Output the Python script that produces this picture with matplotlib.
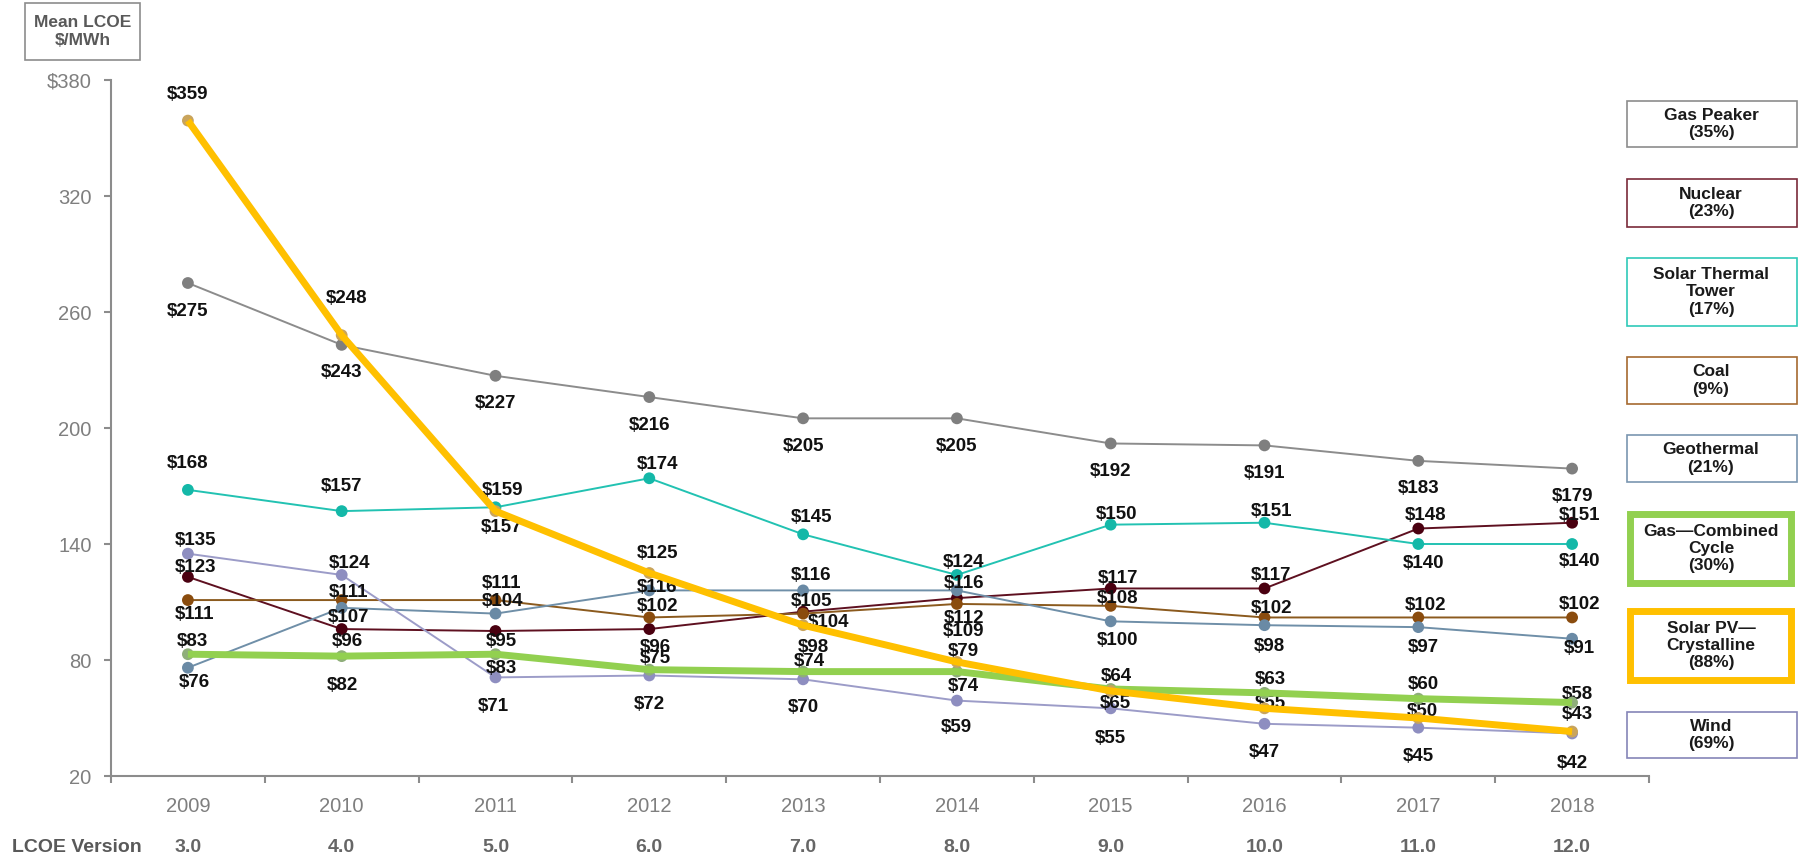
import matplotlib

matplotlib.use("Agg")
import matplotlib.pyplot as plt
from matplotlib.patches import Rectangle
from matplotlib.transforms import blended_transform_factory

plt.rcParams["font.family"] = ["Liberation Sans", "DejaVu Sans"]

# data
years = [2009, 2010, 2011, 2012, 2013, 2014, 2015, 2016, 2017, 2018]
versions = ["3.0", "4.0", "5.0", "6.0", "7.0", "8.0", "9.0", "10.0", "11.0", "12.0"]

gas_peaker = [275, 243, 227, 216, 205, 205, 192, 191, 183, 179]
nuclear = [123, 96, 95, 96, 105, 112, 117, 117, 148, 151]
solar_thermal = [168, 157, 159, 174, 145, 124, 150, 151, 140, 140]
coal = [111, 111, 111, 102, 104, 109, 108, 102, 102, 102]
geothermal = [76, 107, 104, 116, 116, 116, 100, 98, 97, 91]
gas_cc = [83, 82, 83, 75, 74, 74, 65, 63, 60, 58]
solar_pv = [359, 248, 157, 125, 98, 79, 64, 55, 50, 43]
wind = [135, 124, 71, 72, 70, 59, 55, 47, 45, 42]

legend_names = ["Gas Peaker\n(35%)", "Nuclear\n(23%)", "Solar Thermal\nTower\n(17%)",
                "Coal\n(9%)", "Geothermal\n(21%)", "Gas\u2014Combined\nCycle\n(30%)",
                "Solar PV\u2014\nCrystalline\n(88%)", "Wind\n(69%)"]

# style: (line colour, marker colour, line width, zorder)
STYLE = {
    "gas_peaker": ("#8c8c8c", "#7f7f7f", 1.4, 2),
    "nuclear": ("#5e1020", "#4a0010", 1.4, 2),
    "solar_thermal": ("#22c2b2", "#14b8a8", 1.4, 2),
    "coal": ("#8b5a1e", "#8a4c0e", 1.4, 2),
    "geothermal": ("#6f8fa8", "#6a8aa5", 1.4, 2),
    "wind": ("#9c9cc8", "#8e8ec0", 1.4, 2),
    "gas_cc": ("#92d050", "#8fae7a", 5.0, 5),
    "solar_pv": ("#ffc000", "#c9a45c", 5.0, 6),
}

# label offsets in pixels (dx, dy up)
OFFSETS = {
    "gas_peaker": [(0, -28)] * 10,
    "solar_pv": [(0, 26), (5, 37), (6, -16), (8, 19), (10, -22), (6, 10), (6, 14), (6, 5), (4, 7), (5, 17)],
    "solar_thermal": [(0, 26), (0, 25), (7, 17), (8, 14), (8, 17), (7, 12), (6, 10), (7, 11), (5, -19), (7, -18)],
    "nuclear": [(8, 9), (6, -12), (6, -11), (6, -18), (8, 10), (7, -20), (7, 10), (7, 13), (7, 13), (7, 7)],
    "coal": [(7, -14), (7, 8), (6, 17), (8, 11), (25, -9), (7, -28), (7, 7), (7, 9), (7, 12), (7, 13)],
    "geothermal": [(6, -15), (7, -10), (7, 12), (8, 3), (8, 15), (7, 7), (7, -19), (5, -21), (5, -20), (7, -10)],
    "gas_cc": [(5, 13), (1, -29), (6, -14), (6, 11), (6, 10), (6, -15), (5, -14), (6, 13), (5, 14), (5, 8)],
    "wind": [(8, 13), (8, 11), (-2, -29), (0, -29), (0, -28), (-1, -27), (0, -30), (0, -29), (0, -29), (0, -30)],
}

series = {
    "gas_peaker": gas_peaker,
    "nuclear": nuclear,
    "solar_thermal": solar_thermal,
    "coal": coal,
    "geothermal": geothermal,
    "wind": wind,
    "gas_cc": gas_cc,
    "solar_pv": solar_pv,
}

W, H = 1806, 858
fig = plt.figure(figsize=(W / 100, H / 100), dpi=100)
ax = fig.add_axes([111 / W, 1 - 776 / H, (1649 - 111) / W, (776 - 80) / H])

GRAY = "#8c8c8c"
PX = 0.72  # points per pixel at 100 dpi

for key, vals in series.items():
    lc, mc, lw, z = STYLE[key]
    ax.plot(years, vals, color=lc, lw=lw, zorder=z, solid_capstyle="butt")
    ax.scatter(years, vals, s=72, color=mc, zorder=z - 0.5 if lw > 2 else z + 0.1,
               edgecolors="none")
    for x, v, (dx, dy) in zip(years, vals, OFFSETS[key]):
        ax.annotate(f"${v}", (x, v), xytext=(dx * PX, dy * PX), textcoords="offset points",
                    ha="center", va="center", fontsize=13.5, fontweight="bold",
                    color="#111111", zorder=4)

ax.set_xlim(2008.5, 2018.5)
ax.set_ylim(20, 380)
for s in ("top", "right"):
    ax.spines[s].set_visible(False)
for s in ("left", "bottom"):
    ax.spines[s].set_color(GRAY)
    ax.spines[s].set_linewidth(1.5)

ax.set_yticks(range(20, 381, 60))
ax.set_yticklabels([str(v) if v != 380 else "$380" for v in range(20, 381, 60)])
ax.tick_params(axis="y", length=5, width=1.5, color=GRAY, labelcolor="#7f7f7f",
               labelsize=14.5, pad=9)

ax.set_xticks(years)
ax.set_xticklabels([str(y) for y in years])
ax.set_xticks([y - 0.5 for y in years] + [2018.5], minor=True)
ax.tick_params(axis="x", which="major", length=0, labelcolor="#7f7f7f", labelsize=14.5, pad=15)
ax.tick_params(axis="x", which="minor", length=5, width=1.5, color=GRAY)

# version row under the x axis
tr = blended_transform_factory(ax.transData, fig.transFigure)
for x, ver in zip(years, versions):
    ax.text(x, 1 - 847 / H, ver, transform=tr, ha="center", va="center", fontsize=14,
            fontweight="bold", color="#666666", clip_on=False)
fig.text(12 / W, 1 - 847 / H, "LCOE Version", ha="left", va="center", fontsize=14,
         fontweight="bold", color="#595959")

# unit box top-left
fig.add_artist(Rectangle((25 / W, 1 - 60 / H), 115 / W, 57 / H, transform=fig.transFigure,
                         fill=False, edgecolor="#8c8c8c", lw=1.2))
fig.text(82.5 / W, 1 - 31.5 / H, "Mean LCOE\n$/MWh", ha="center", va="center",
         fontsize=12.5, fontweight="bold", color="#595959", linespacing=1.25)

# legend boxes on the right: (top, bottom, edge colour, line width)
boxes = [
    (101, 147, "#8c8c8c", 1.2),
    (179, 227, "#7a2a3a", 1.2),
    (258, 326, "#2fc9b9", 1.2),
    (357, 404, "#a66a30", 1.2),
    (435, 482, "#7a96b0", 1.2),
    (514, 583, "#92d050", 5.0),
    (611, 680, "#ffc000", 5.0),
    (712, 758, "#8585b8", 1.2),
]
for (top, bot, ec, lw), name in zip(boxes, legend_names):
    x0, x1 = (1630, 1791) if lw > 2 else (1627, 1797)
    fig.add_artist(Rectangle((x0 / W, 1 - bot / H), (x1 - x0) / W, (bot - top) / H,
                             transform=fig.transFigure, fill=False, edgecolor=ec, lw=lw))
    fig.text(1711 / W, 1 - (top + bot) / 2 / H, name, ha="center", va="center",
             fontsize=12.5, fontweight="bold", color="#1a1a1a", linespacing=1.2)

fig.savefig("out.png", dpi=100)
